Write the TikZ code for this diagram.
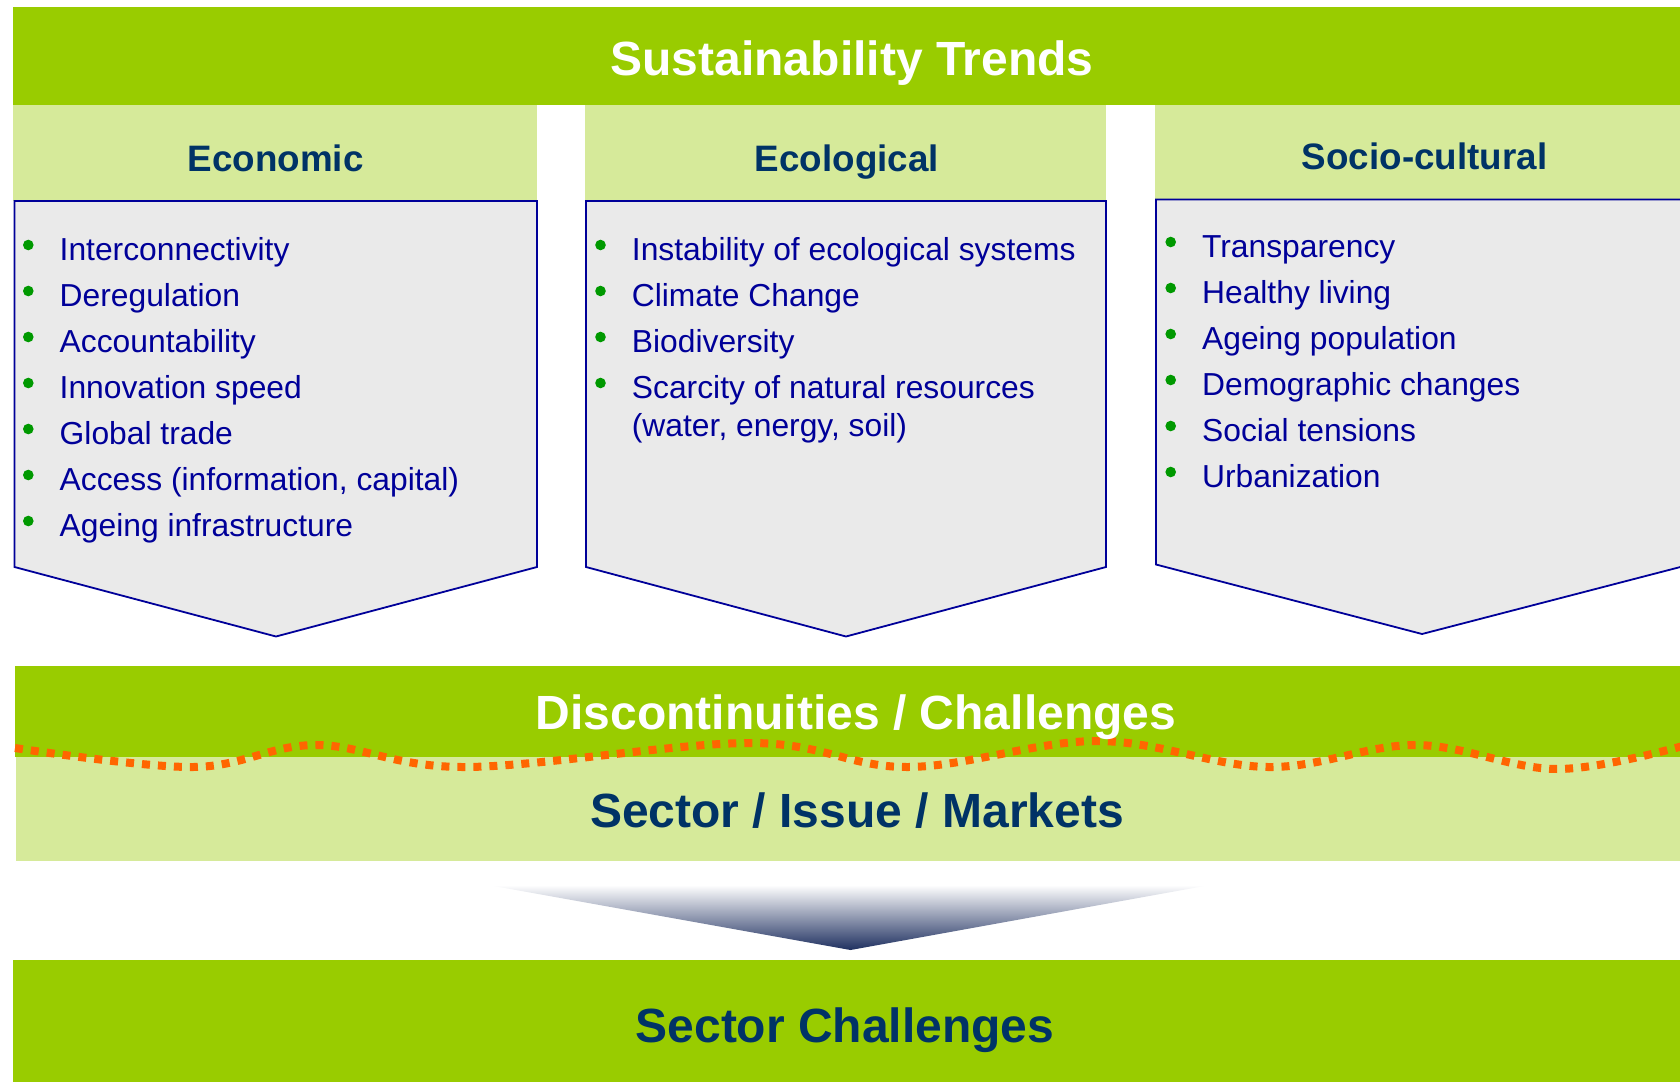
\documentclass[tikz,border=0pt]{standalone}
\usepackage{fontspec}
\setmainfont{Liberation Sans}
\usepackage{tikz}

\definecolor{trendgreen}{HTML}{99CC00}
\definecolor{palegreen}{HTML}{D6EA9A}
\definecolor{boxgray}{HTML}{EAEAEA}
\definecolor{boxblue}{HTML}{000099}
\definecolor{itemblue}{HTML}{000099}
\definecolor{headnavy}{HTML}{003366}
\definecolor{dotgreen}{HTML}{009900}
\definecolor{waveorange}{HTML}{FF6600}
\definecolor{funnelnavy}{HTML}{1F3060}

\begin{document}
\begin{tikzpicture}[x=0.5pt,y=-0.5pt,
  item/.style={anchor=base west, inner sep=0pt, text=itemblue, font=\fontsize{15.9}{19}\selectfont},
  colhead/.style={anchor=base, inner sep=0pt, text=headnavy, font=\fontsize{18.4}{22}\selectfont\bfseries},
  bartitle/.style={anchor=base, inner sep=0pt, font=\fontsize{24}{28}\selectfont\bfseries},
  column/.style={fill=boxgray, draw=boxblue, line width=0.9pt, line join=miter}]

% 画布范围
\useasboundingbox (0,0) rectangle (1680,1082);

% 顶部标题栏
\fill[trendgreen] (13,7) rectangle (1680,105);
\node[bartitle, text=white] (trends) at (852,75) {Sustainability Trends};

% 三个栏目: 表头 + 箭头形内容框
\fill[palegreen] (13,105) rectangle (537,201);
\filldraw[column] (14.5,201) -- (537,201) -- (537,567) -- (276,636.5) -- (14.5,567) -- cycle;
\node[colhead] (econ) at (275.7,171.7) {Economic};

\fill[palegreen] (585,105) rectangle (1106,201);
\filldraw[column] (586,201) -- (1106,201) -- (1106,567) -- (846,636.5) -- (586,567) -- cycle;
\node[colhead] (ecol) at (847,171.7) {Ecological};

\fill[palegreen] (1155,105) rectangle (1690,199.5);
\filldraw[column] (1156,199.5) -- (1690,199.5) -- (1690,564.5) -- (1422,634) -- (1156,564.5) -- cycle;
\node[colhead] (soc) at (1424.6,169.3) {Socio-cultural};

% 列表条目 (绿色圆点)
\foreach \t [count=\i] in {Interconnectivity, Deregulation, Accountability, Innovation speed,
    Global trade, {Access (information, capital)}, Ageing infrastructure}{
  \node[item] (econ\i) at (59.3,{260+46*(\i-1)}) {\t};
  \fill[dotgreen] ([shift={(-31,-15)}]econ\i.base west) circle[radius=2.65pt];
}
\foreach \t [count=\i] in {Instability of ecological systems, Climate Change, Biodiversity,
    Scarcity of natural resources}{
  \node[item] (ecol\i) at (631.5,{260+46*(\i-1)}) {\t};
  \fill[dotgreen] ([shift={(-31,-15)}]ecol\i.base west) circle[radius=2.65pt];
}
\node[item] (ecol4b) at (631.5,436.7) {(water, energy, soil)};
\foreach \t [count=\i] in {Transparency, Healthy living, Ageing population, Demographic changes,
    Social tensions, Urbanization}{
  \node[item] (soc\i) at (1201.7,{257+46*(\i-1)}) {\t};
  \fill[dotgreen] ([shift={(-31,-15)}]soc\i.base west) circle[radius=2.65pt];
}

% 中部: 断层 / 行业
\fill[trendgreen] (15,666) rectangle (1680,757);
\fill[palegreen] (16,757) rectangle (1680,861);
\draw[waveorange, line width=4pt, dash pattern=on 4pt off 4pt]
  plot[smooth, tension=0.6] coordinates {(15,748) (193,767) (316,745) (466,767) (750,743)
    (908,767) (1097,741) (1268,767) (1416,745) (1558,769) (1690,744)};
\node[bartitle, text=white] (disc) at (856,729) {Discontinuities / Challenges};
\node[bartitle, text=headnavy] (sector) at (857,827) {Sector / Issue / Markets};

% 渐变漏斗
\shade[top color=white, bottom color=funnelnavy] (488,885) -- (1210,885) -- (850.5,950) -- cycle;

% 底部栏
\fill[trendgreen] (13,960) rectangle (1680,1082);
\node[bartitle, text=headnavy] (challenges) at (845,1042) {Sector Challenges};

\end{tikzpicture}
\end{document}
